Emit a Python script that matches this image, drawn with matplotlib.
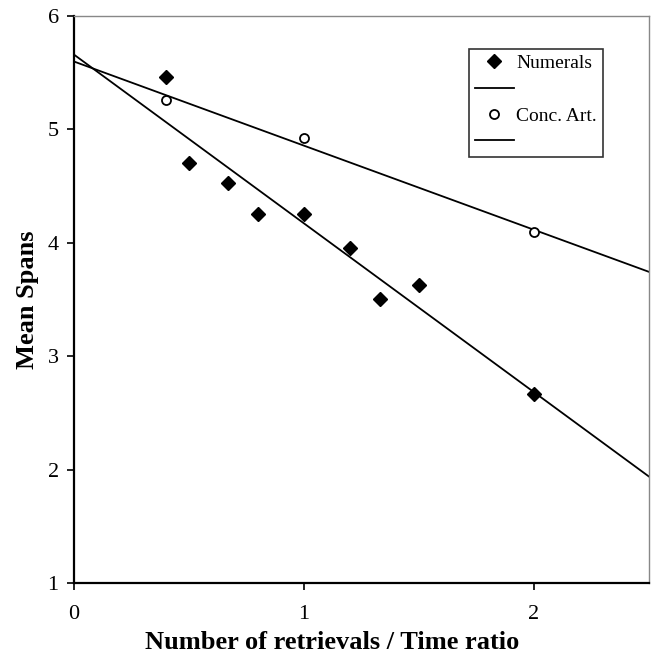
import numpy as np
import matplotlib
matplotlib.use("Agg")
import matplotlib.pyplot as plt
from matplotlib.lines import Line2D

plt.rcParams["font.family"] = ["Liberation Serif", "DejaVu Serif"]

num_x = [0.4, 0.5, 0.67, 0.8, 1.0, 1.2, 1.33, 1.5, 2.0]
num_y = [5.46, 4.70, 4.53, 4.25, 4.25, 3.95, 3.50, 3.63, 2.67]
conc_x = [0.4, 1.0, 2.0]
conc_y = [5.26, 4.92, 4.09]

fig = plt.figure(figsize=(6.52, 6.58), dpi=100)
ax = fig.add_axes([0.1135, 0.114, 0.8815, 0.862])

# fitted regression lines over the whole x range
xs = np.array([0, 2.5])
b1 = np.polyfit(num_x, num_y, 1)
b2 = np.polyfit(conc_x, conc_y, 1)
ax.plot(xs, np.polyval(b1, xs), color="black", lw=1.3)
ax.plot(xs, np.polyval(b2, xs), color="black", lw=1.3)

ax.plot(num_x, num_y, "D", color="black", ms=7, ls="none")
ax.plot(conc_x, conc_y, "o", mfc="white", mec="black", mew=1.3, ms=6.5, ls="none")

ax.set_xlim(0, 2.5)
ax.set_ylim(1, 6)
ax.set_xticks([0, 1, 2])
ax.set_yticks([1, 2, 3, 4, 5, 6])
ax.tick_params(direction="out", length=5, width=1.2, labelsize=16)
ax.tick_params(axis="x", pad=11)
ax.tick_params(axis="y", pad=6)
for s in ["left", "bottom"]:
    ax.spines[s].set_linewidth(1.6)
for s in ["top", "right"]:
    ax.spines[s].set_color("#888888")
    ax.spines[s].set_linewidth(1.0)

ax.set_xlabel("Number of retrievals / Time ratio", fontsize=19, fontweight="bold", labelpad=5)
ax.xaxis.label.set_x(0.449)
ax.set_ylabel("Mean Spans", fontsize=19, fontweight="bold", labelpad=6)

handles = [
    Line2D([], [], marker="D", color="black", ls="none", ms=7),
    Line2D([], [], color="black", lw=1.3),
    Line2D([], [], marker="o", mfc="white", mec="black", mew=1.3, ls="none", ms=6.5),
    Line2D([], [], color="black", lw=1.3),
]
labels = ["Numerals", " ", "Conc. Art.", " "]
leg = ax.legend(handles, labels, loc="upper left", bbox_to_anchor=(0.687, 0.942),
                fontsize=14, frameon=True, fancybox=False, edgecolor="black",
                handlelength=2.0, labelspacing=0.45, borderpad=0.3,
                handletextpad=0.15, borderaxespad=0)
leg.get_frame().set_linewidth(1.2)

fig.savefig("out.png", dpi=100)
